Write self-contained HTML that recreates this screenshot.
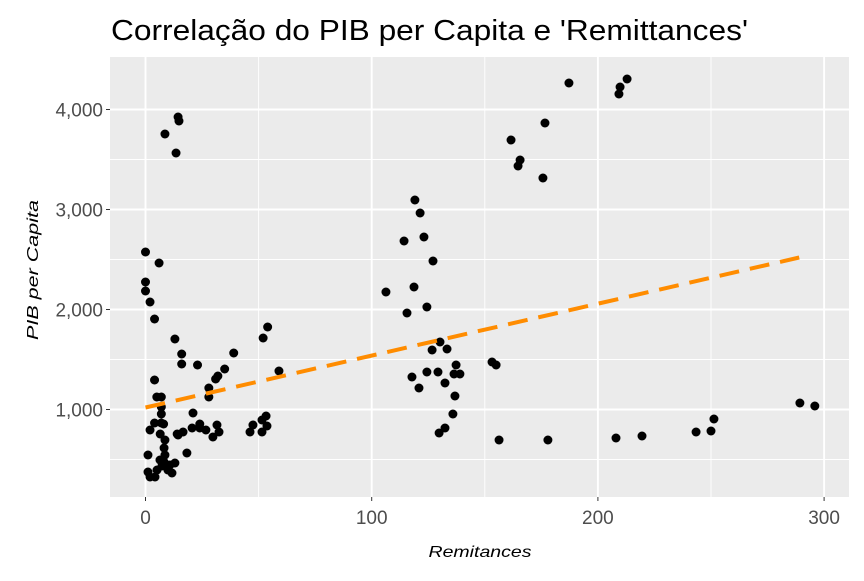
<!DOCTYPE html>
<html><head><meta charset="utf-8"><style>
body{margin:0;background:#fff;font-family:"Liberation Sans",Arial,sans-serif}
</style></head><body>
<svg id="c" width="864" height="576" xmlns="http://www.w3.org/2000/svg">
<rect width="864" height="576" fill="#fff"/>
<text x="111" y="40" font-size="29" textLength="637" lengthAdjust="spacingAndGlyphs" fill="#000">Correlação do PIB per Capita e 'Remittances'</text>
<rect x="110" y="57" width="739" height="440" fill="#ebebeb"/>
<g id="grid"></g><g id="pts"></g><g id="trend"></g><g id="axes"></g>
<text x="480" y="557" font-size="16" font-style="italic" text-anchor="middle" textLength="103" lengthAdjust="spacingAndGlyphs">Remitances</text>
<text transform="translate(38,270) rotate(-90)" font-size="16" font-style="italic" text-anchor="middle" textLength="140" lengthAdjust="spacingAndGlyphs">PIB per Capita</text>
</svg>
<script>
const xTicks=[0,100,200,300];
const xMinor=[50,150,250];
const yTicks=[1000,2000,3000,4000];
const yTickLabels=["1,000","2,000","3,000","4,000"];
const yMinor=[500,1500,2500,3500];
const remit=[0,6,0,0,2,4,13,16,16,23,39,35,31,32,28,28,4,5,7,7,7,7,21,24,24,4,8,2,6.5,8.6,20.6,16.6,14.4,18.3,26.7,29.8,32.5,31.6,46.2,47.5,51.5,53.3,53.7,51.5,1.1,6.4,5.1,7.3,9.9,1.1,2,4.2,10.8,13,11.7,8.2,8.6,8.2,14,52,54,59,8.6,14.4,14.8,13.5,
119.1,121.4,114.3,123.1,127.1,106.3,118.7,124.4,115.6,130.2,126.7,133.3,137.3,124.4,129.3,117.8,120.9,132.4,136.4,139,136.8,135.9,132.4,129.8,153.2,155,156.3,
187.2,212.9,209.8,209.3,176.6,161.6,165.6,164.7,175.7,
177.9,208,219.5,243.4,250,251.3,289.3,295.9];
const pib=[2575,2465,2275,2185,2075,1905,1705,1555,1455,1445,1565,1405,1305,1335,1215,1125,1295,1125,1125,1025,955,865,965,815,855,865,855,795,755,695,815,775,745,565,795,725,775,845,775,845,895,935,835,775,545,495,395,435,395,375,325,325,445,465,365,615,545,475,755,1715,1825,1385,3755,3925,3885,3565,
3095,2965,2685,2725,2485,2175,2225,2025,1965,1675,1595,1605,1445,1375,1375,1325,1215,1265,1355,1355,1135,955,815,765,1475,1445,695,
4265,4305,4225,4155,3865,3695,3495,3435,3315,
695,715,735,775,785,905,1065,1035];
const trendX=[0,289];
const trendY=[1020,2520];
const NS="http://www.w3.org/2000/svg";
const X=v=>145.5+v*2.262, Y=v=>409.5-(v-1000)*0.1;
const L=110,R=849,T=57,B=497;
function el(t,a,p){const e=document.createElementNS(NS,t);for(const k in a)e.setAttribute(k,a[k]);document.getElementById(p).appendChild(e);return e;}
xMinor.forEach(v=>{const e=el('line',{x1:X(v),x2:X(v),y1:T,y2:B,stroke:'#fff','stroke-width':0.9},'grid');

});
yMinor.forEach(v=>{const e=el('line',{x1:L,x2:R,y1:Y(v),y2:Y(v),stroke:'#fff','stroke-width':0.9},'grid');

});
xTicks.forEach(v=>{const e=el('line',{x1:X(v),x2:X(v),y1:T,y2:B,stroke:'#fff','stroke-width':1.9},'grid');


el('line',{x1:X(v),x2:X(v),y1:B,y2:B+4,stroke:'#333','stroke-width':1},'axes');
const t=el('text',{x:X(v),y:B+27,'font-size':19,fill:'#4d4d4d','text-anchor':'middle'},'axes');t.textContent=v;

});
yTicks.forEach((v,i)=>{const e=el('line',{x1:L,x2:R,y1:Y(v),y2:Y(v),stroke:'#fff','stroke-width':1.9},'grid');


el('line',{x1:L-4,x2:L,y1:Y(v),y2:Y(v),stroke:'#333','stroke-width':1},'axes');
const t=el('text',{x:L-7,y:Y(v)+7,'font-size':19,fill:'#4d4d4d','text-anchor':'end'},'axes');t.textContent=yTickLabels[i];

});
remit.forEach((v,i)=>{const c=el('circle',{cx:X(v),cy:Y(pib[i]),r:4.5,fill:'#000'},'pts');

});
const tl=el('line',{x1:X(trendX[0]),y1:Y(trendY[0]),x2:X(trendX[1]),y2:Y(trendY[1]),stroke:'#ff8c00','stroke-width':4,'stroke-dasharray':'20 11'},'trend');


</script>
</body></html>
